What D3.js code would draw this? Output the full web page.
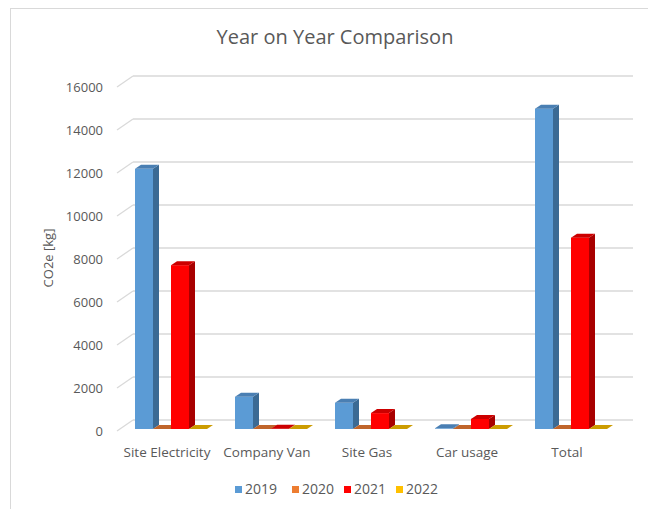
<!DOCTYPE html>
<html>
  <head>
    <script src="https://d3js.org/d3.v7.min.js"></script>
    <style>
    body { margin: 0; background: #fff; }
    text { font-family: "Open Sans", sans-serif; fill: #595959; }
    </style>
  </head>
  <body>
    <script>

    // data
    var categories = ["Site Electricity", "Company Van", "Site Gas", "Car usage", "Total"];
    var years = ["2019", "2020", "2021", "2022"];
    var values2019 = [12100, 1500, 1220, 30, 14900];
    var values2020 = [0, 0, 0, 0, 0];
    var values2021 = [7620, 15, 740, 470, 8900];
    var values2022 = [0, 0, 0, 0, 0];
    var yTicks = [0, 2000, 4000, 6000, 8000, 10000, 12000, 14000, 16000];

    var seriesValues = [values2019, values2020, values2021, values2022];

    // colours: front, side, top
    var colors = [
      { front: "#5B9BD5", side: "#3B6A94", top: "#4A7FB3" },
      { front: "#ED7D31", side: "#A8561F", top: "#C0652A" },
      { front: "#FF0000", side: "#A80000", top: "#CC0000" },
      { front: "#FFC000", side: "#B08400", top: "#CC9C00" }
    ];

    var w = 648, h = 509;

    var svg = d3.select("body").append("svg")
      .attr("width", w)
      .attr("height", h);

    // chart border (cut off at right and bottom)
    svg.append("rect")
      .attr("x", 10.5).attr("y", 8.5)
      .attr("width", 700).attr("height", 600)
      .attr("fill", "none")
      .attr("stroke", "#D9D9D9");

    // front plane scales
    var x = d3.scaleBand()
      .domain(categories)
      .range([117, 617]);

    var y = d3.scaleLinear()
      .domain([0, 16000])
      .range([431, 87]);

    // back wall offset, bar plane offset, bar depth
    var wallDx = 16, wallDy = -11;
    var barDx = 4, barDy = -2;
    var depthDx = 6, depthDy = -4;

    var xSub = d3.scaleBand()
      .domain(years)
      .range([14, 86]);

    // gridlines: diagonal on side wall + line on back wall
    var grid = svg.append("g");
    yTicks.forEach(function(t) {
      var yy = y(t);
      grid.append("line")
        .attr("x1", x.range()[0]).attr("y1", yy)
        .attr("x2", x.range()[0] + wallDx).attr("y2", yy + wallDy)
        .attr("stroke", "#D9D9D9").attr("stroke-width", 1.3);
      grid.append("line")
        .attr("x1", x.range()[0] + wallDx).attr("y1", yy + wallDy)
        .attr("x2", x.range()[1] + wallDx).attr("y2", yy + wallDy)
        .attr("stroke", "#D9D9D9").attr("stroke-width", 1.3);
    });

    // y axis labels
    svg.append("g").selectAll("text")
      .data(yTicks)
      .enter().append("text")
      .attr("x", 103)
      .attr("y", function(d) { return y(d); })
      .attr("dy", "0.35em")
      .attr("text-anchor", "end")
      .attr("font-size", 13)
      .text(function(d) { return d; });

    // bars
    var bars = svg.append("g");
    categories.forEach(function(c, ci) {
      years.forEach(function(yr, si) {
        var v = seriesValues[si][ci];
        var bw = xSub.bandwidth();
        var x0 = x(c) + xSub(yr) + barDx;
        var yt = y(v) + barDy;
        var yb = y(0) + barDy;
        var col = colors[si];
        // front face
        bars.append("rect")
          .attr("x", x0).attr("y", yt)
          .attr("width", bw).attr("height", yb - yt)
          .attr("fill", col.front);
        // side face
        bars.append("polygon")
          .attr("points", [
            [x0 + bw, yt], [x0 + bw + depthDx, yt + depthDy],
            [x0 + bw + depthDx, yb + depthDy], [x0 + bw, yb]
          ].join(" "))
          .attr("fill", col.side);
        // top face
        bars.append("polygon")
          .attr("points", [
            [x0, yt], [x0 + depthDx, yt + depthDy],
            [x0 + bw + depthDx, yt + depthDy], [x0 + bw, yt]
          ].join(" "))
          .attr("fill", col.top);
      });
    });

    // category labels
    svg.append("g").selectAll("text")
      .data(categories)
      .enter().append("text")
      .attr("x", function(d) { return x(d) + 50; })
      .attr("y", 452)
      .attr("dy", "0.35em")
      .attr("text-anchor", "middle")
      .attr("font-size", 13.5)
      .text(function(d) { return d; });

    // title
    svg.append("text")
      .attr("x", 335).attr("y", 37)
      .attr("dy", "0.35em")
      .attr("text-anchor", "middle")
      .attr("font-size", 20)
      .text("Year on Year Comparison");

    // y axis title
    svg.append("text")
      .attr("transform", "translate(48,258) rotate(-90)")
      .attr("dy", "0.35em")
      .attr("text-anchor", "middle")
      .attr("font-size", 13)
      .text("CO2e [kg]");

    // legend
    var legendX = [235, 292, 344, 396];
    var legend = svg.append("g");
    years.forEach(function(yr, i) {
      legend.append("rect")
        .attr("x", legendX[i]).attr("y", 486)
        .attr("width", 7).attr("height", 7)
        .attr("fill", colors[i].front);
      legend.append("text")
        .attr("x", legendX[i] + 10).attr("y", 489.5)
        .attr("dy", "0.35em")
        .attr("font-size", 14)
        .text(yr);
    });

    </script>
  </body>
</html>
